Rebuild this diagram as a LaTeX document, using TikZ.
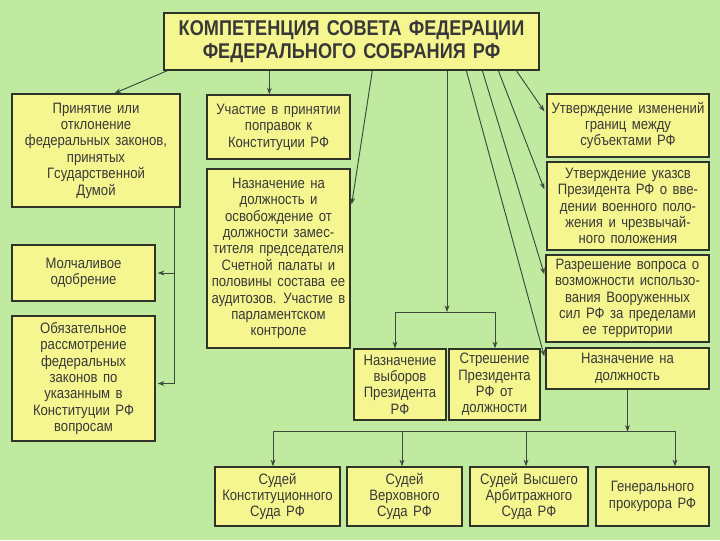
\documentclass[tikz,border=0pt]{standalone}
\usepackage{fontspec}
\setmainfont{Liberation Sans}[FakeStretch=0.87,WordSpace=1.5]
\newfontfamily\titlefont{Liberation Sans}[FakeStretch=0.85,WordSpace=1.4]
\usetikzlibrary{calc,arrows.meta,shadows}
\definecolor{bg}{HTML}{BFEA9F}
\definecolor{boxfill}{HTML}{F6F690}
\definecolor{boxline}{HTML}{2F3328}
\definecolor{txt}{HTML}{383838}
\definecolor{conn}{HTML}{3B4A3B}
\newcommand\mybox[7][]{\node[box,#1,minimum width={(#5-#3)*0.75pt},minimum height={(#6-#4)*0.75pt}] (#2) at ({(#3+#5)/2},{(#4+#6)/2}) {#7};}
\tikzset{
  box/.style={draw=boxline,line width=1pt,fill=boxfill,text=txt,align=center,
    font=\fontsize{11.3}{12.3}\selectfont,inner sep=0pt,
    drop shadow={shadow xshift=0.9pt,shadow yshift=-0.9pt,fill=boxline,opacity=0.9}},
  titlebox/.style={font=\titlefont\bfseries\fontsize{16}{17.5}\selectfont},
  wire/.style={draw=conn,line width=0.7pt},
  arr/.style={wire,-{Stealth[length=5pt,width=3.6pt]}}
}
\begin{document}
\begin{tikzpicture}[x=0.75pt,y=-0.75pt]
\fill[bg] (0,0) rectangle (720,540);
\useasboundingbox (0,0) rectangle (720,540);
\mybox[titlebox]{title}{164}{13}{539}{70}{КОМПЕТЕНЦИЯ СОВЕТА ФЕДЕРАЦИИ\\ФЕДЕРАЛЬНОГО СОБРАНИЯ РФ}
\mybox{A}{12}{94}{180}{207}{Принятие или\\отклонение\\федеральных законов,\\принятых\\Гсударственной\\Думой}
\mybox{B}{12}{245}{155}{301}{Молчаливое\\одобрение}
\mybox{C}{12}{316}{155}{441}{Обязательное\\рассмотрение\\федеральных\\законов по\\указанным в\\Конституции РФ\\вопросам}
\mybox{U}{207}{95}{350}{159}{Участие в принятии\\поправок к\\Конституции РФ}
\mybox{N1}{207}{169}{350}{348}{Назначение на\\должность и\\освобождение от\\должности замес-\\тителя председателя\\Счетной палаты и\\половины состава ее\\аудитозов. Участие в\\парламентском\\контроле}
\mybox{R1}{547}{94}{709}{157}{Утверждение изменений\\границ между\\субъектами РФ}
\mybox{R2}{547}{162}{709}{250}{Утверждение указсв\\Президента РФ о вве-\\дении военного поло-\\жения и чрезвычай-\\ного положения}
\mybox{R3}{546}{255}{709}{342}{Разрешение вопроса о\\возможности использо-\\вания Вооруженных\\сил РФ за пределами\\ее территории}
\mybox{NN}{546}{348}{709}{389}{Назначение на\\должность}
\mybox{P1}{354}{349}{446}{420}{Назначение\\выборов\\Президента\\РФ}
\mybox{P2}{449}{349}{540}{420}{Стрешение\\Президента\\РФ от\\должности}
\mybox{K}{215}{467}{340}{526}{Судей\\Конституционного\\Суда РФ}
\mybox{V}{347}{467}{462}{526}{Судей\\Верховного\\Суда РФ}
\mybox{Ar}{470}{467}{588}{526}{Судей Высшего\\Арбитражного\\Суда РФ}
\mybox{G}{596}{467}{709}{526}{Генерального\\прокурора РФ}
% from title
\draw[arr] ($(title.south west)+(4,0)$) -- ($(A.north west)+(103,0)$);
\draw[arr] ($(title.south west)+(106,0)$) -- ($(U.north west)+(63,0)$);
\draw[arr] ($(title.south west)+(209,0)$) -- ($(N1.north east)+(1,36)$);
\coordinate (j1) at (447,312);
\coordinate (j1L) at (395,312);
\coordinate (j1R) at (495,312);
\draw[arr] (title.south -| j1) -- (j1);
\draw[wire] (j1L) -- (j1R);
\draw[arr] (j1L) -- (j1L |- P1.north);
\draw[arr] (j1R) -- (j1R |- P2.north);
\draw[arr] ($(title.south west)+(303,0)$) -- ($(NN.north west)+(-1,9)$);
\draw[arr] ($(title.south west)+(319,0)$) -- ($(R3.north west)+(-1,20)$);
\draw[arr] ($(title.south west)+(335,0)$) -- ($(R2.north west)+(-2,28)$);
\draw[arr] ($(title.south west)+(353,0)$) -- ($(R1.north west)+(-2,18)$);
% left bus
\coordinate (lb) at ($(A.south east)+(-6,0)$);
\draw[arr,shorten >=1.5pt] (lb) |- (B.east);
\draw[arr,shorten >=1.5pt] (lb) |- ($(C.east)+(0,5)$);
% bottom bus
\coordinate (bb) at ($(NN.south)+(0,42)$);
\coordinate (bL) at (273,431);
\coordinate (b2) at (402,431);
\coordinate (b3) at (526,431);
\coordinate (bR) at (675,431);
\draw[arr] (NN.south) -- (bb);
\draw[wire] (bL) -- (bR);
\draw[arr] (bL) -- (bL |- K.north);
\draw[arr] (b2) -- (b2 |- V.north);
\draw[arr] (b3) -- (b3 |- Ar.north);
\draw[arr] (bR) -- (bR |- G.north);
\end{tikzpicture}
\end{document}
